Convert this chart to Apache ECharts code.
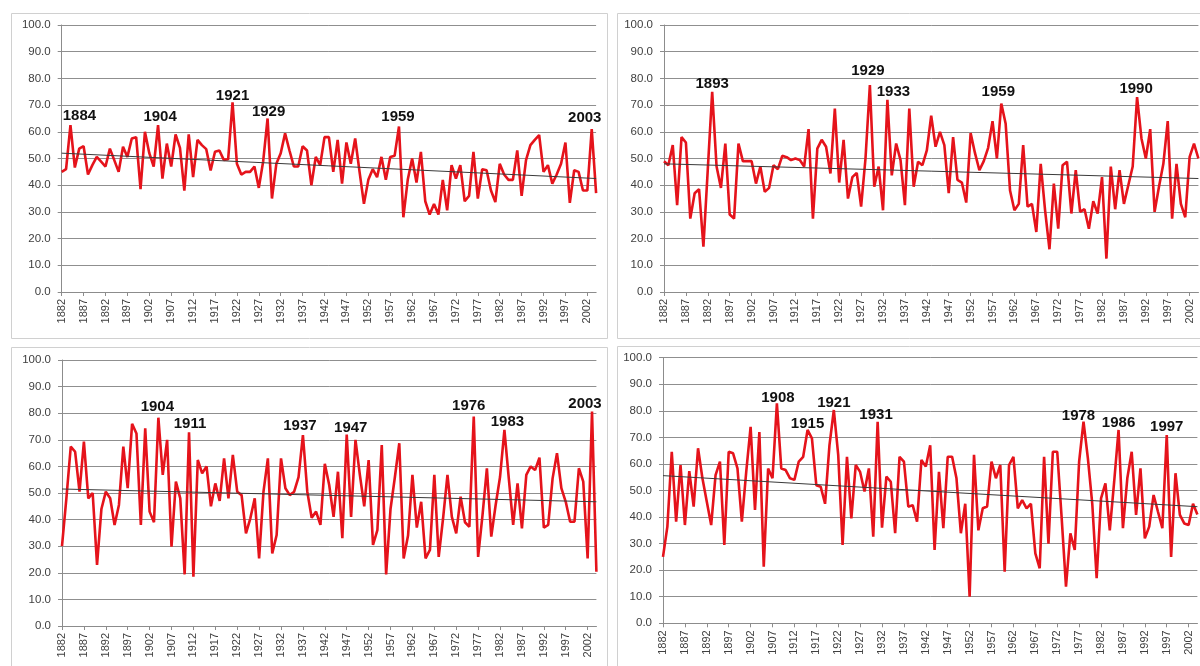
<!DOCTYPE html>
<html><head><meta charset="utf-8">
<script src="https://cdn.jsdelivr.net/npm/echarts@6/dist/echarts.min.js"></script>
<style>html,body{margin:0;padding:0;background:#fff}#c{width:1200px;height:666px}</style>
</head><body><div id="c"></div><script>
// ---- data ----
const startYear = 1882, endYear = 2004;
const years = [];
for (let y = startYear; y <= endYear; y++) years.push(String(y));

const s1 = [45,46,62.5,46.6,53.7,54.6,44,47.5,50.6,48.8,
  47,53.7,49.4,45,54.4,50.6,57.5,58,38.5,60,
  52,47,62.5,42.5,55.6,47,59,54,38,59,
  43,57,55,53.5,45.5,52.5,53,49.5,49.7,71,
  48,44,45,45,47,39,49,65,35,48,
  52,59.4,53,47,47,54.6,53,40,50.6,47.5,
  58,58,45,57,40.6,56,48,57.5,45,33,
  42,46,43,50.6,42,50.6,51,62,28,42,
  50,41,52.5,34,29,33,29,42,30.6,47.5,
  42.5,47.5,34,36,52.5,35,46,45.6,38,33.7,
  48,44,42,42,53,36,49.4,55,57,58.8,
  45,47.5,40.6,44,48,56,33.4,45.6,45,38,
  38,61,37];
const s2 = [49,47.5,55,32.5,58,56,27.5,37,38.5,17,
  46,75,47,39,55.6,29,27.5,55.6,49,49,
  49,40.6,47,37.5,39,47.5,46,51,50.5,49.4,
  50,49.4,47,61,27.5,53.7,57,54.4,44.4,68.7,
  41,57,35,43,44.6,32,50,77.5,39.4,47,
  30.6,72,43.7,55.6,49.4,32.5,68.7,39.4,48.8,47.5,
  53,66,54.4,60,55,37,58,42,41,33.5,
  59.5,52,45.6,49,54,64,50,70.6,63,38,
  30.6,33,55,32,33,22.5,48,30.6,16,40.6,
  23.7,47.5,48.8,29.4,45.6,30,31,23.7,34,29.4,
  43,12.5,47,31,45.6,33,40,47,73,57.5,
  50,61,30,39.4,48,64,27.5,48,33,28,
  50.6,55.6,50];
const s3 = [30,48,67.4,65.5,50.5,69.3,48,50,23,44,
  50.5,48,38,45.5,67.4,51.8,76,72.4,38,74.3,
  43,39,78.3,56.8,70,29.8,54.3,48,19.4,72.8,
  18.5,62.4,57.4,60,45,53.6,47,63,48,64.3,
  50.5,49.2,34.8,40.5,48,25.4,50.5,63,27.3,34.2,
  63,51.8,49.2,50.5,56,71.8,50.5,40.7,43,38,
  61,53,41,58,33,72,41,70,56.8,45,
  62.4,30.5,36,68,19.4,44,56,68.7,25.4,34,
  56.8,37,46.7,25.4,28.6,56.8,26,40.5,56.8,41,
  34.8,48.6,39,37.3,78.7,26,41.7,59.3,33.6,45.5,
  56,73.7,55.5,38,53.6,36.7,56.8,60,58.6,63.3,
  37,38,55.5,65,51.8,46.7,39.2,39.2,59.3,54.3,
  25.4,80.6,20.4];
const s4 = [25,36.4,64.6,38.3,59.6,37,57.3,43.9,65.9,54.6,
  45.8,37,55.8,60.9,29.5,64.6,64,58.3,38.3,57,
  74,42.7,72,21.3,58.3,54.6,82.8,58.3,57.7,54.6,
  54,60.9,62.7,72.8,69.6,52,51.4,45,67,80.3,
  63.4,29.5,62.7,39.5,59.6,57,49.6,58.3,32.6,75.9,
  36,55.2,53.3,33.9,62.7,60.9,43.9,44.5,38.3,61.5,
  59,67,27.6,57,35.8,62.7,62.7,54.6,33.9,45,
  10,63.4,35,43.3,44,60.9,54.6,59.6,19.4,59.6,
  62.7,43.3,46.4,43.3,45,26.3,20.7,62.7,30,64.6,
  64.6,40,13.8,33.9,27.6,60.9,75.9,62.1,45,17,
  47,52.7,35,53.3,72.8,35.8,54.6,64.6,40.8,58.3,
  32,36.4,48.3,42,35.8,70.9,25,56.5,40.8,37.6,
  37,45,41];

// trend line end values (first year, last year)
const trend1 = [52, 42.5];
const trend2 = [48, 42.5];
const trend3 = [51.5, 46.7];
const trend4 = [55.6, 43.9];

// annotated peak years
const peaks1 = ['1884','1904','1921','1929','1959','2003'];
const peaks2 = ['1893','1929','1933','1959','1990'];
const peaks3 = ['1904','1911','1937','1947','1976','1983','2003'];
const peaks4 = ['1908','1915','1921','1931','1978','1986','1997'];

// ---- layout / style ----
const labelOffsets = [
  [[9,-9],[2,-8],[0,-7],[1,-6.5],[-1,-10],[-7,-11]],
  [[0,-8],[-2,-14],[6,-8],[-3,-11.5],[-1,-8]],
  [[-1,-11],[1,-8],[-3,-9],[4,-6.5],[-5,-10.6],[3,-8],[-7,-7.6]],
  [[1,-5.4],[0,-6],[0,-7],[-1.6,-7],[-5,-6],[0,-7],[0,-8]]
];
const grids = [
  {left: 61.7, top: 25, width: 534.4, height: 267},
  {left: 664, top: 25, width: 534.4, height: 267},
  {left: 62, top: 360, width: 534.4, height: 266},
  {left: 663, top: 357.7, width: 534.4, height: 265.6}
];
const seriesData = [s1, s2, s3, s4];
const trends = [trend1, trend2, trend3, trend4];
const peaks = [peaks1, peaks2, peaks3, peaks4];

const FONT = 'Liberation Sans, Arial, sans-serif';
const xAxes = [], yAxes = [], series = [];
for (let k = 0; k < 4; k++) {
  xAxes.push({
    type: 'category', gridIndex: k, data: years, boundaryGap: false,
    axisLine: {show: true, lineStyle: {color: '#8c8c8c', width: 1}},
    axisTick: {show: true, interval: 4, length: 4, lineStyle: {color: '#8c8c8c'}},
    axisLabel: {interval: 4, rotate: 90, margin: 7, fontSize: 11, color: '#404040', fontFamily: FONT},
    splitLine: {show: false}
  });
  yAxes.push({
    type: 'value', gridIndex: k, min: 0, max: 100, interval: 10,
    axisLine: {show: true, lineStyle: {color: '#8c8c8c', width: 1}},
    axisTick: {show: true, length: 4, lineStyle: {color: '#8c8c8c'}},
    axisLabel: {formatter: v => v.toFixed(1), margin: 11, fontSize: 11.5, color: '#404040', fontFamily: FONT},
    splitLine: {show: true, lineStyle: {color: '#8f8f8f', width: 1}}
  });
  const vals = seriesData[k];
  series.push({
    type: 'line', xAxisIndex: k, yAxisIndex: k, data: vals,
    showSymbol: false, symbol: 'none', animation: false,
    lineStyle: {color: '#e5131b', width: 2.6},
    z: 3,
    markLine: {
      silent: true, symbol: ['none','none'], animation: false,
      label: {show: false},
      lineStyle: {color: '#3a3a3a', width: 1, type: 'solid'},
      data: [[{coord: [years[0], trends[k][0]]}, {coord: [years[years.length-1], trends[k][1]]}]]
    },
    markPoint: {
      silent: true, animation: false, symbol: 'circle', symbolSize: 1,
      itemStyle: {color: 'rgba(0,0,0,0)'},
      label: {show: true, position: 'inside', fontSize: 15, fontWeight: 'bold', color: '#111', fontFamily: FONT},
      data: peaks[k].map((yr, j) => ({
        coord: [yr, vals[years.indexOf(yr)]],
        label: {formatter: yr, offset: labelOffsets[k][j]}
      }))
    }
  });
}

const boxes = [
  {x: 11.5, y: 13.5, width: 596, height: 325},
  {x: 617.5, y: 13.5, width: 600, height: 325},
  {x: 11.5, y: 347.5, width: 596, height: 340},
  {x: 617.5, y: 346.5, width: 600, height: 340}
];

const chart = echarts.init(document.getElementById('c'), null, {renderer: 'canvas'});
chart.setOption({
  backgroundColor: '#fff',
  animation: false,
  grid: grids,
  xAxis: xAxes,
  yAxis: yAxes,
  series: series,
  graphic: boxes.map(b => ({
    type: 'rect', shape: b, silent: true, z: -1,
    style: {fill: 'none', stroke: '#d0d0d0', lineWidth: 1}
  }))
});
</script></body></html>
